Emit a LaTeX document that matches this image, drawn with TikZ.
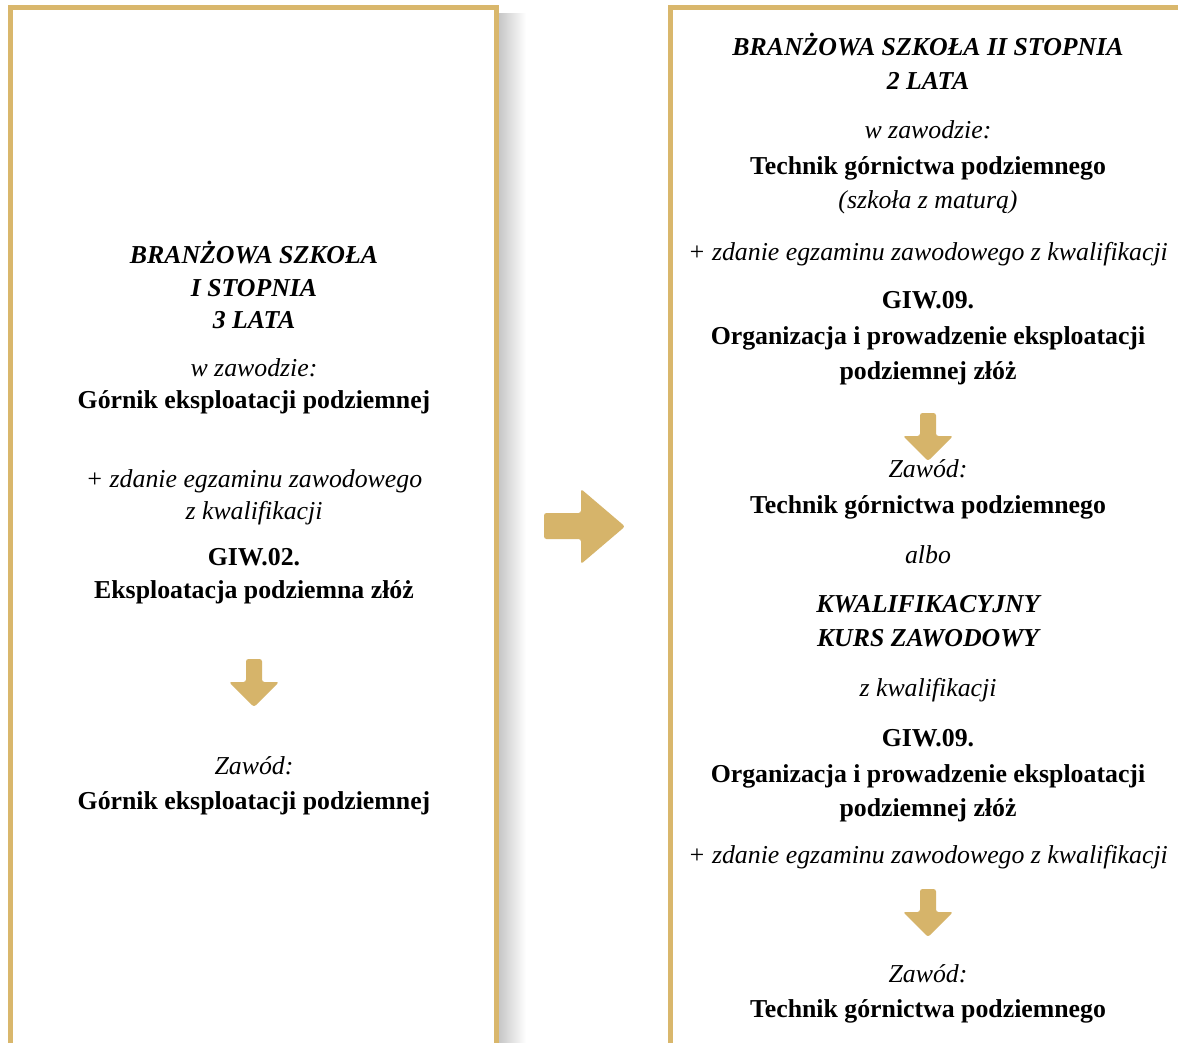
\documentclass[tikz,border=0pt]{standalone}
\usepackage{fontspec}
\setmainfont{Liberation Serif}
\definecolor{gold}{RGB}{214,180,106}
\definecolor{goldline}{RGB}{217,183,108}
\tikzset{
  txt/.style={anchor=base, inner sep=0pt, font=\fontsize{25.8}{30}\selectfont},
  it/.style={txt, font=\fontsize{25.8}{30}\selectfont\itshape},
  bf/.style={txt, font=\fontsize{25.8}{30}\selectfont\bfseries},
  bi/.style={txt, font=\fontsize{25.8}{30}\selectfont\bfseries\itshape},
  downarr/.pic={\fill[gold, rounded corners=2.5pt] (-8,0) -- (8,0) -- (8,23) -- (25,23) -- (0,48) -- (-25,23) -- (-8,23) -- cycle;},
  panel/.style={draw=goldline, line width=5pt, fill=white}
}
\begin{document}
\begin{tikzpicture}[x=1pt,y=-1pt]
\useasboundingbox (0,0) rectangle (1178,1043);
\fill[white] (0,0) rectangle (1178,1043);
% shadow of left panel
\shade[left color=black!22, right color=white] (499,14) rectangle (526,1043);
\draw[panel] (10.5,7.5) -- (496.5,7.5) -- (496.5,1050) -- (10.5,1050) -- cycle;
\draw[panel] (1190,7.5) -- (670.5,7.5) -- (670.5,1050);
% left texts
\node[bi] (l1) at (254,263) {BRANŻOWA SZKOŁA};
\node[bi] (l2) at (254,296) {I STOPNIA};
\node[bi] (l3) at (254,328) {3 LATA};
\node[it] (l4) at (254,376) {w zawodzie:};
\node[bf] (l5) at (254,408) {Górnik eksploatacji podziemnej};
\node[it] (l6) at (254,487) {+ zdanie egzaminu zawodowego};
\node[it] (l7) at (254,519) {z kwalifikacji};
\node[bf] (l8) at (254,565) {GIW.02.};
\node[bf] (l9) at (254,598) {Eksploatacja podziemna złóż};
\pic at (254,659) {downarr};
\node[it] (l10) at (254,774) {Zawód:};
\node[bf] (l11) at (254,809) {Górnik eksploatacji podziemnej};
% middle arrow
\fill[gold, rounded corners=2.5pt] (544,513) -- (581,513) -- (581,489) -- (625,526.5) -- (581,564) -- (581,539) -- (544,539) -- cycle;
% right texts
\node[bi] (r1) at (928,56) {BRANŻOWA SZKOŁA II STOPNIA};
\node[bi] (r2) at (928,90) {2 LATA};
\node[it] (r3) at (928,139) {w zawodzie:};
\node[bf] (r4) at (928,175) {Technik górnictwa podziemnego};
\node[it] (r5) at (928,209) {(szkoła z maturą)};
\node[it] (r6) at (928,260) {+ zdanie egzaminu zawodowego z kwalifikacji};
\node[bf] (r7) at (928,308) {GIW.09.};
\node[bf] (r8) at (928,344) {Organizacja i prowadzenie eksploatacji};
\node[bf] (r9) at (928,379) {podziemnej złóż};
\pic at (928,413) {downarr};
\node[it] (r10) at (928,477) {Zawód:};
\node[bf] (r11) at (928,513) {Technik górnictwa podziemnego};
\node[it] (r12) at (928,563) {albo};
\node[bi] (r13) at (928,612) {KWALIFIKACYJNY};
\node[bi] (r14) at (928,646) {KURS ZAWODOWY};
\node[it] (r15) at (928,696) {z kwalifikacji};
\node[bf] (r16) at (928,746) {GIW.09.};
\node[bf] (r17) at (928,782) {Organizacja i prowadzenie eksploatacji};
\node[bf] (r18) at (928,816) {podziemnej złóż};
\node[it] (r19) at (928,863) {+ zdanie egzaminu zawodowego z kwalifikacji};
\pic at (928,889) {downarr};
\node[it] (r20) at (928,982) {Zawód:};
\node[bf] (r21) at (928,1017) {Technik górnictwa podziemnego};
\end{tikzpicture}
\end{document}
